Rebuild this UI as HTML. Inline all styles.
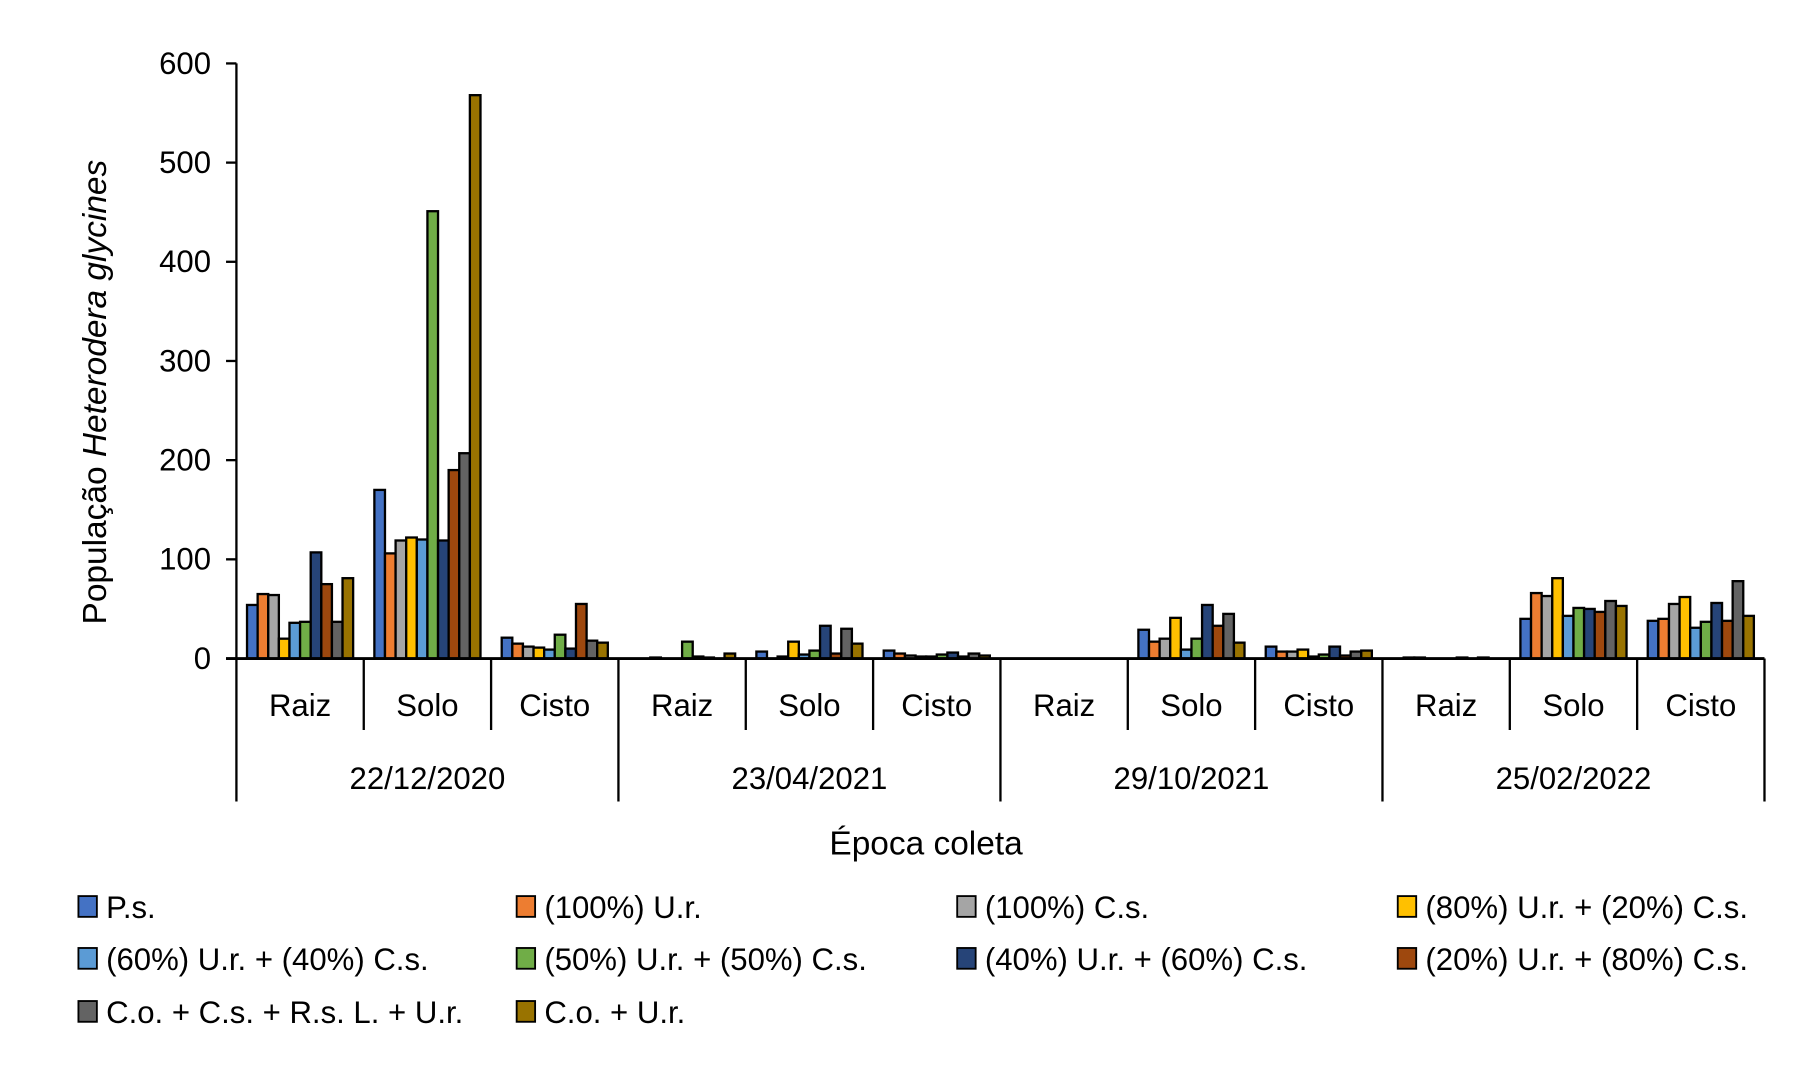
<!DOCTYPE html>
<html><head><meta charset="utf-8"><style>
html,body{margin:0;padding:0;background:#fff;}
svg{display:block;font-family:"Liberation Sans",sans-serif;}
</style></head><body>
<svg id="chart" width="1806" height="1076" viewBox="0 0 1566 933" preserveAspectRatio="none" xmlns="http://www.w3.org/2000/svg">
<g id="plot"></g>
<text transform="translate(92,340) rotate(-90)" text-anchor="middle" font-size="29">População <tspan font-style="italic">Heterodera glycines</tspan></text>
<text x="803" y="741" text-anchor="middle" font-size="29">Época coleta</text>
<g id="legend"></g>
</svg>
<script>
const series = ["P.s.","(100%) U.r.","(100%) C.s.","(80%) U.r. + (20%) C.s.","(60%) U.r. + (40%) C.s.","(50%) U.r. + (50%) C.s.","(40%) U.r. + (60%) C.s.","(20%) U.r. + (80%) C.s.","C.o. + C.s. + R.s. L. + U.r.","C.o. + U.r."];
const colors = ["#4472C4","#ED7D31","#A5A5A5","#FFC000","#5B9BD5","#70AD47","#264478","#9E480E","#636363","#997300"];
const dates = ["22/12/2020","23/04/2021","29/10/2021","25/02/2022"];
const subcats = ["Raiz","Solo","Cisto"];
const yTicks = [0,100,200,300,400,500,600];
const values = [
 [54,65,64,20,36,37,107,75,37,81],
 [170,106,119,122,120,451,119,190,207,568],
 [21,15,12,11,9,24,10,55,18,16],
 [0,0,1,0,0,17,2,1,0,5],
 [7,0,2,17,4,8,33,5,30,15],
 [8,5,3,2,2,4,6,2,5,3],
 [0,0,0,0,0,0,0,0,0,0],
 [29,17,20,41,9,20,54,33,45,16],
 [12,7,7,9,2,4,12,3,7,8],
 [0,1,1,0,0,0,1,0,1,0],
 [40,66,63,81,43,51,50,47,58,53],
 [38,40,55,62,31,37,56,38,78,43]
];
const NS="http://www.w3.org/2000/svg";
const X0=205,X1=1530,Y0=571,YTOP=55,YMAX=600;
const nG=values.length, gW=(X1-X0)/nG, bW=gW/12;
const y=v=>Y0-(v/YMAX)*(Y0-YTOP);
const plot=document.getElementById('plot');
function mk(tag,attrs,parent){const e=document.createElementNS(NS,tag);for(const k in attrs)e.setAttribute(k,attrs[k]);parent.appendChild(e);return e;}
values.forEach((g,gi)=>{g.forEach((v,si)=>{
 const bx=X0+gi*gW+bW*(1+si);
 const r=mk('rect',{x:bx,y:y(v),width:bW,height:Y0-y(v),fill:colors[si],stroke:'#000','stroke-width':2},plot);
 
 
});});
const ya=mk('line',{x1:X0,y1:YTOP,x2:X0,y2:Y0,stroke:'#000','stroke-width':2},plot);


yTicks.forEach(t=>{
 const tl=mk('line',{x1:X0-9,y1:y(t),x2:X0,y2:y(t),stroke:'#000','stroke-width':2},plot);
 
 
 const tx=mk('text',{x:X0-22,y:y(t)+9,'text-anchor':'end','font-size':27},plot);
 tx.textContent=t;
 
 
});
const xa=mk('line',{x1:X0-9,y1:Y0,x2:X1,y2:Y0,stroke:'#000','stroke-width':2.5},plot);


for(let i=0;i<=nG;i++){
 const major=i%3===0;
 const l=mk('line',{x1:X0+i*gW,y1:Y0,x2:X0+i*gW,y2:major?695:633,stroke:'#000','stroke-width':2},plot);
 
 
}
for(let i=0;i<nG;i++){
 const t=mk('text',{x:X0+(i+0.5)*gW,y:621,'text-anchor':'middle','font-size':27},plot);
 t.textContent=subcats[i%3];
 
 
}
dates.forEach((d,di)=>{
 const t=mk('text',{x:X0+(di*3+1.5)*gW,y:684,'text-anchor':'middle','font-size':27},plot);
 t.textContent=d;
 
 
});
const leg=document.getElementById('legend');
const colX=[68,448,830,1212],rowY=[787,832,878];
series.forEach((s,i)=>{
 const cx=colX[i%4],cy=rowY[Math.floor(i/4)];
 const g=mk('g',{},leg);
 
 
 mk('rect',{x:cx,y:cy-10,width:16,height:18,fill:colors[i],stroke:'#000','stroke-width':1.6},g);
 const t=mk('text',{x:cx+24,y:cy+9,'font-size':27},g);
 t.textContent=s;
});
</script>
</body></html>
